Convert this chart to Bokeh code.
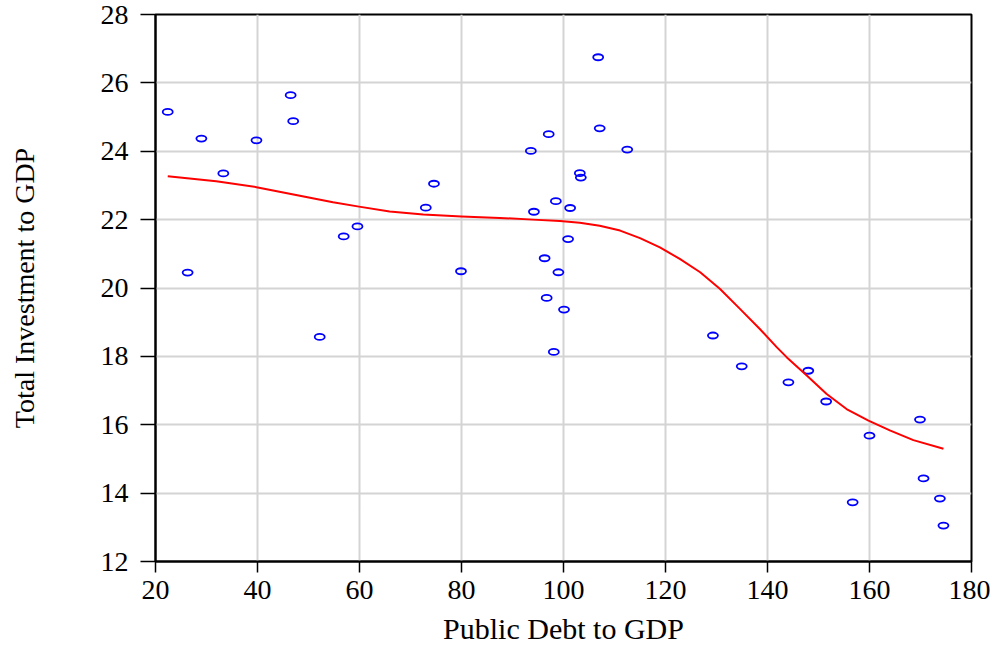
from bokeh.plotting import figure
from bokeh.models import Range1d, FixedTicker
from bokeh.embed import file_html
from bokeh.resources import INLINE

# Scatter data: Public Debt to GDP vs Total Investment to GDP
debt = [22.4, 26.3, 29.0, 33.3, 39.8, 46.5, 47.0, 52.2, 56.9, 59.6,
        73.0, 74.6, 79.9, 93.6, 94.2, 97.1, 96.3, 96.7, 98.1, 98.5,
        99.0, 100.1, 100.9, 101.3, 103.2, 103.4, 106.8, 107.1, 112.5, 129.3,
        134.95, 144.1, 148.0, 151.5, 156.7, 160.0, 169.9, 170.6, 173.8, 174.5]
invest = [25.15, 20.45, 24.37, 23.35, 24.32, 25.64, 24.88, 18.57, 21.51, 21.80,
          22.35, 23.05, 20.49, 24.01, 22.23, 24.50, 20.87, 19.71, 18.13, 22.54,
          20.46, 19.37, 21.43, 22.34, 23.36, 23.23, 26.75, 24.67, 24.05, 18.61,
          17.71, 17.24, 17.58, 16.68, 13.73, 15.68, 16.15, 14.43, 13.84, 13.05]

# Smoothed fit curve
fit_x = [22.4, 31.9, 39.8, 48.3, 54.8, 59.9, 65.9, 72.5, 80.0, 87.5,
         94.0, 99.3, 103.2, 107.1, 111.1, 115.0, 118.9, 122.8, 126.8, 130.7,
         134.6, 138.5, 141.8, 143.8, 147.7, 151.6, 155.5, 159.8, 164.1, 168.6,
         174.5]
fit_y = [23.27, 23.12, 22.95, 22.70, 22.51, 22.38, 22.24, 22.15, 22.09, 22.05,
         22.00, 21.96, 21.91, 21.82, 21.68, 21.46, 21.19, 20.85, 20.46, 19.97,
         19.39, 18.80, 18.27, 17.97, 17.44, 16.90, 16.46, 16.12, 15.83, 15.55,
         15.30]

x_ticks = [20, 40, 60, 80, 100, 120, 140, 160, 180]
y_ticks = [12, 14, 16, 18, 20, 22, 24, 26, 28]

FONT = "Liberation Serif"

p = figure(width=990, height=658, output_backend="svg", toolbar_location=None,
           x_range=Range1d(20, 180), y_range=Range1d(12, 28),
           min_border_left=155, min_border_right=19, min_border_top=14,
           min_border_bottom=97)

p.outline_line_color = "black"
p.outline_line_width = 2
p.outline_line_alpha = 1

for ax in (p.xaxis[0], p.yaxis[0]):
    ax.axis_line_color = "black"
    ax.axis_line_width = 2
    ax.major_tick_line_color = "black"
    ax.major_tick_line_width = 1.5
    ax.major_tick_in = 0
    ax.minor_tick_line_color = None
    ax.major_label_text_font = FONT
    ax.major_label_text_color = "black"
    ax.axis_label_text_font = FONT
    ax.axis_label_text_font_style = "normal"
    ax.axis_label_text_color = "black"

p.xaxis.ticker = FixedTicker(ticks=x_ticks)
p.yaxis.ticker = FixedTicker(ticks=y_ticks)

p.xaxis.major_tick_out = 11
p.xaxis.major_label_text_font_size = "28px"
p.xaxis.major_label_standoff = 8
p.xaxis.axis_label = "Public Debt to GDP"
p.xaxis.axis_label_text_font_size = "30px"
p.xaxis.axis_label_standoff = 10

p.yaxis.major_tick_out = 15
p.yaxis.major_label_text_font_size = "28px"
p.yaxis.major_label_standoff = 12
p.yaxis.axis_label = "Total Investment to GDP"
p.yaxis.axis_label_text_font_size = "28px"
p.yaxis.axis_label_standoff = 58

p.xgrid.ticker = FixedTicker(ticks=x_ticks)
p.ygrid.ticker = FixedTicker(ticks=y_ticks)
for g in (p.xgrid[0], p.ygrid[0]):
    g.grid_line_color = "#d4d4d4"
    g.grid_line_width = 2

p.ellipse(x=debt, y=invest, width=10, height=6, width_units="screen",
          height_units="screen", fill_color=None, line_color="#0000ff",
          line_width=1.8)

p.line(fit_x, fit_y, line_color="#ff0000", line_width=2, line_join="round")

open("out.html", "w").write(file_html(p, INLINE))
